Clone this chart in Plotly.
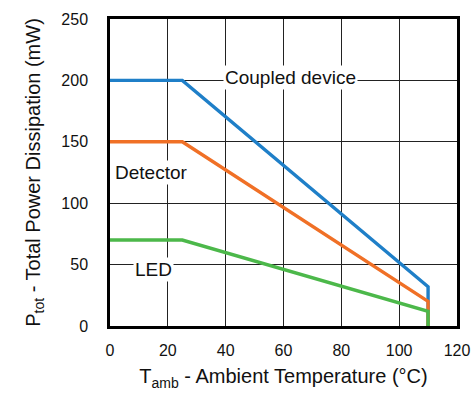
import plotly.graph_objects as go

temp_coupled = [0, 25, 110, 110]
power_coupled = [200, 200, 32, 0]
temp_detector = [0, 25, 110, 110]
power_detector = [150, 150, 20, 0]
temp_led = [0, 25, 110, 110]
power_led = [70, 70, 12, 0]

x_ticks = [0, 20, 40, 60, 80, 100, 120]
y_ticks = [0, 50, 100, 150, 200, 250]

labels = ["Coupled device", "Detector", "LED"]
label_x = [62.3, 14.3, 15.2]
label_y = [202, 125, 46]

FONT = "Liberation Sans, Arial, Helvetica, sans-serif"

fig = go.Figure()
fig.add_trace(go.Scatter(x=temp_coupled, y=power_coupled, mode="lines",
                         line=dict(color="#1f7fc8", width=3.4), showlegend=False))
fig.add_trace(go.Scatter(x=temp_detector, y=power_detector, mode="lines",
                         line=dict(color="#f07026", width=3.4), showlegend=False))
fig.add_trace(go.Scatter(x=temp_led, y=power_led, mode="lines",
                         line=dict(color="#4cb84a", width=3.4), showlegend=False))

for t, lx, ly in zip(labels, label_x, label_y):
    fig.add_annotation(x=lx, y=ly, text=t, showarrow=False, bgcolor="white",
                       font=dict(family=FONT, size=19, color="#111"), borderpad=1)

fig.update_xaxes(range=[0, 120], tickvals=x_ticks, showgrid=True, gridcolor="#222",
                 gridwidth=1.2, showline=True, linecolor="black", linewidth=2.5, mirror=True,
                 ticks="", zeroline=False, ticklabelstandoff=8,
                 tickfont=dict(family=FONT, size=16, color="#111"),
                 title=dict(text="T<sub>amb</sub> - Ambient Temperature (°C)",
                            font=dict(family=FONT, size=20, color="#111"), standoff=12))
fig.update_yaxes(range=[0, 250], tickvals=y_ticks, showgrid=True, gridcolor="#222",
                 gridwidth=1.2, showline=True, linecolor="black", linewidth=2.5, mirror=True,
                 ticks="", zeroline=False, ticklabelstandoff=16,
                 tickfont=dict(family=FONT, size=16, color="#111"),
                 title=dict(text="P<sub>tot</sub> - Total Power Dissipation (mW)",
                            font=dict(family=FONT, size=20, color="#111"), standoff=16))

fig.update_layout(width=473, height=405, margin=dict(l=110, r=16, t=19, b=79, autoexpand=False),
                  plot_bgcolor="white", paper_bgcolor="white")

fig.write_html("out.html", config={"displayModeBar": False},
               post_script="document.body.style.margin='0';")
